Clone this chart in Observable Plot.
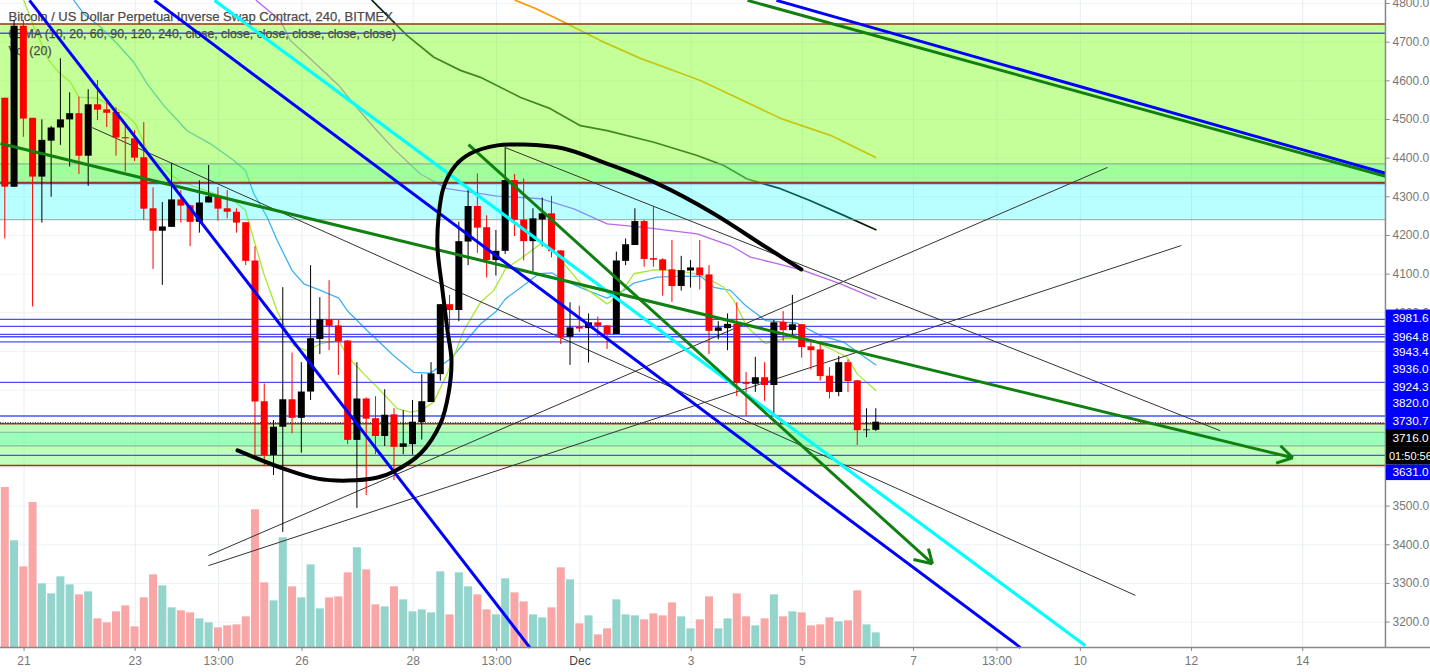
<!DOCTYPE html>
<html><head><meta charset="utf-8">
<style>html,body{margin:0;padding:0;background:#fff;overflow:hidden}svg{display:block}</style>
<script src="https://cdn.jsdelivr.net/npm/d3@7"></script>
<script src="https://cdn.jsdelivr.net/npm/@observablehq/plot@0.6"></script>
</head><body><div id="chart"></div>
<script>
// x unit: 4-hour bar number. y unit: price in USD.
const opens = [4555,4325,4741,4503,4351,4444,4478,4499,4515,4405,4538,4525,4518,4453,4450,4401,4269,4211,4221,4292,4277,4234,4284,4301,4269,4260,4233,4134,3770,3631,3704,3775,3727,3795,3931,3982,3966,3927,3670,3777,3726,3680,3736,3652,3659,3716,3768,3840,4021,4006,4183,4275,4220,4135,4159,4342,4240,4184,4240,4256,4160,3937,3963,3959,3974,3966,3944,4133,4174,4236,4140,4137,4111,4068,4108,4116,4098,3952,3959,3970,3819,3815,3832,3812,3975,3954,3969,3912,3904,3836,3794,3871,3824,3695,3696];
const closes = [4325,4741,4501,4351,4446,4478,4499,4515,4405,4538,4524,4516,4452,4450,4400,4268,4211,4222,4292,4276,4234,4284,4300,4268,4260,4232,4133,3769,3631,3704,3775,3727,3795,3933,3982,3965,3925,3670,3777,3725,3680,3735,3652,3661,3717,3770,3842,4021,4006,4184,4275,4219,4135,4159,4342,4239,4184,4243,4256,4158,3935,3961,3958,3974,3965,3944,4134,4176,4236,4138,4136,4109,4068,4109,4116,4096,3952,3961,3970,3818,3815,3832,3812,3974,3954,3969,3910,3902,3835,3794,3871,3822,3695,3697,3717];
const highs = [4555,4756,4756,4503,4499,4482,4657,4569,4558,4577,4601,4545,4530,4484,4471,4492,4323,4285,4385,4316,4277,4341,4381,4324,4316,4269,4233,4171,3816,3721,4065,3896,3871,4122,4039,4083,3980,3928,3871,3780,3783,3801,3752,3747,3773,3840,3871,4021,4045,4234,4323,4359,4251,4213,4427,4358,4346,4269,4297,4301,4161,4026,4017,3997,3989,3967,4157,4191,4269,4239,4275,4140,4187,4146,4135,4187,4122,3977,3997,4026,3846,3885,3871,3980,4003,4045,3970,3922,3920,3858,3887,3878,3825,3752,3752];
const lows = [4191,4325,4454,4015,4232,4299,4433,4377,4358,4327,4497,4479,4405,4364,4391,4239,4112,4071,4221,4232,4171,4206,4284,4237,4243,4206,4122,3631,3602,3579,3432,3687,3637,3773,3892,3902,3838,3659,3494,3527,3633,3654,3566,3633,3632,3671,3768,3823,3957,3977,4122,4154,4090,4095,4151,4197,4134,4105,4170,4142,3918,3864,3949,3870,3939,3905,3944,4122,4174,4118,4118,4043,4027,4056,4064,4059,3892,3930,3902,3783,3732,3794,3771,3732,3926,3941,3883,3852,3823,3777,3783,3794,3657,3677,3693];
const volumes = [480,320,242,435,191,161,212,188,158,167,86,74,107,125,62,149,218,185,119,110,104,86,74,59,65,68,92,413,194,140,329,182,149,248,116,149,152,224,299,233,128,122,182,143,107,113,104,227,98,224,182,158,113,98,206,164,137,98,89,119,239,203,71,95,38,56,143,98,95,83,101,95,134,92,56,83,152,56,86,161,92,65,86,158,92,107,104,65,68,89,77,80,170,68,44];

const ema10Bars = [1.98,3.06,4.68,5.75,7,7.9,9.89,11.69,13.13,14.03,15.47,18.17,19.06,24.64,25.9,26.26,27.88,29.3,31.1,32.55,34,35.97,36.87,38.67,40.1,42.27,43.7,44.96,46.2,47.66,49.46,51.26,52.7,53.96,55.58,57.74,58.82,60.26,62.42,64.93,66.37,67.81,69.97,72.49,75,77.52,78.6,80.04,82.02,84,86.52,89.04,90.84,91.91,93.93];
const ema10Prices = [4808,4739,4653,4622,4597,4558,4555,4532,4510,4489,4411,4351,4338,4290,4265,4234,4101,4006,3915,3902,3920,3928,3889,3842,3808,3752,3743,3749,3769,3842,3954,4027,4058,4114,4140,4178,4174,4127,4066,4023,4049,4101,4111,4109,4099,4066,4032,3963,3920,3933,3933,3907,3885,3842,3799];
const ema20Bars = [7.37,8.45,10.25,12.05,13.85,15.29,17.09,19.6,22.12,24.64,25.9,26.8,28.24,29.32,30.93,32.2,34,35.97,36.87,39.03,41.9,44.06,45.86,48.02,51.26,52.88,53.96,55.94,57.56,59,60.26,62.78,64.93,66.73,67.81,70.33,72.49,75,76.45,78.24,79.86,82.02,85.44,87.96,90.47,93.93];
const ema20Prices = [4808,4773,4739,4696,4648,4592,4536,4471,4437,4394,4368,4308,4247,4187,4109,4075,4058,4038,4006,3954,3889,3846,3844,3881,3971,4002,4036,4071,4101,4103,4084,4058,4038,4058,4077,4092,4094,4095,4066,4058,4019,3980,3973,3941,3924,3865];
const ema60Bars = [27.06,29.67,30.75,32.55,35.97,37.59,39.75,41.9,44.78,47.66,50.19,53.06,57.74,61.34,64.93,68.89,74.65,78.24,80.4,83.28,86.16,90.12,93.93];
const ema60Prices = [4808,4756,4704,4665,4588,4540,4480,4424,4359,4321,4312,4302,4295,4269,4230,4221,4204,4174,4144,4127,4109,4075,4036];
const ema90Bars = [39.57,41.9,43.35,46.23,49.1,51.26,55.6,58.8,62.05,64.93,69.97,74.65,77.52,80.04,83.64,86.88,90.47,93.93];
const ema90Prices = [4808,4752,4717,4661,4627,4609,4557,4528,4484,4471,4441,4407,4381,4346,4321,4290,4252,4215];
const ema120Bars = [55.04,57.2,59.9,64.2,68.53,75,83.64,89.03,93.89];
const ema120Prices = [4808,4787,4756,4704,4658,4601,4503,4459,4402];

const arcBars = [25.04,30,33.67,36.9,40.15,41.87,44.79,46.95,47.81,48.13,47.7,47.16,46.62,46.73,47.27,48.56,50.18,53.1,55.9,60.22,64.54,70.36,76.4,81.8,85.9];
const arcPrices = [3644,3597,3571,3566,3574,3589,3636,3714,3791,3877,3954,4058,4169,4246,4324,4381,4412,4433,4435,4425,4389,4334,4257,4174,4112];

const thickBlue = [[2.59,4808,56.6,3134],[16.08,4808,109.54,3134],[83.2,4808,148.93,4361]];
const thickCyan = [[22.56,4808,116.55,3139]];
const thickGreen = [[80.08,4808,148.93,4353],[-0.54,4438,138.93,3625],[137.6,3656,138.93,3625],[137.13,3611,138.93,3625],[49.97,4435,100.04,3351],[99.61,3390,100.04,3351],[97.99,3362,100.04,3351]];
const thinBlack = [[9.36,4479,121.95,3269],[53.96,4427,131.1,3695],[21.9,3372,118.93,4376],[21.9,3346,126.9,4174]];

const blueLevels = [4723,4334,3983,3965,3944,3938,3925,3820,3733,3631];
const brownLevels = [4747,4337,3713,3605];
const greenZones = [[4747,4337],[3713,3605]];
const cyanZones = [[4385,4241],[3691,3656]];
const lastPrice = 3716;

const priceTicks = [4800,4700,4600,4500,4400,4300,4200,4100,4000,3900,3800,3700,3600,3500,3400,3300,3200];
const timeBars = [2,14,23,32,44,53,62,74,86,98,107,116,128,140];
const timeLabels = ["21","23","13:00","26","28","13:00","Dec","3","5","7","13:00","10","12","14"];
const tagTexts = ["3981.6","3964.8","3943.4","3936.0","3924.3","3820.0","3730.7","3716.0","01:50:56","3631.0"];
const tagPrices = [3986,3938,3898,3854,3808,3765,3720,3675,3629,3587];
const tagBoxes = [[4007,3698,"#0000ff"],[3698,3654,"#000000"],[3654,3606,"#000000"],[3606,3566,"#0000ff"]];
const legendLines = ["Bitcoin / US Dollar Perpetual Inverse Swap Contract, 240, BITMEX","6EMA (10, 20, 60, 90, 120, 240, close, close, close, close, close, close)","Vol (20)"];
const legendPrices = [4766,4722,4678];
const legendSizes = [13,12.3,12.5];

const candles = opens.map((o,i)=>({i,o,c:closes[i],h:highs[i],l:lows[i],v:volumes[i],up:closes[i]>=o}));
const pairs = (xs,ys)=>xs.map((x,i)=>({x,y:ys[i]}));
const segs = a=>a.map(([x1,y1,x2,y2])=>({x1,y1,x2,y2}));
const zones = a=>a.map(([y1,y2])=>({y1,y2}));

const X0=-0.54, XR=148.93, XE=153.79, YB=3134.2, volK=0.8622;
const font="Liberation Sans, Arial, sans-serif";
const emaLine=(xs,ys,stroke,w=1.3)=>Plot.line(pairs(xs,ys),{x:"x",y:"y",stroke,strokeWidth:w,curve:"linear"});
const segMark=(a,stroke,strokeWidth,extra={})=>Plot.link(segs(a),{x1:"x1",y1:"y1",x2:"x2",y2:"y2",stroke,strokeWidth,...extra});

const chart = Plot.plot({
  width:1430,height:672,margin:0,
  x:{type:"linear",domain:[X0,XE],range:[0,1430],axis:null},
  y:{type:"linear",domain:[4807.76,3069.6],range:[0,672],axis:null},
  style:{fontFamily:font,background:"#fff"},
  marks:[
    Plot.ruleY(priceTicks,{x1:X0,x2:XR,stroke:"#eff3f7",strokeWidth:1}),
    Plot.ruleX(timeBars,{y1:4807.76,y2:YB,stroke:"#e6eef4",strokeWidth:1}),
    Plot.ruleX(candles,{x:"i",y1:YB,y2:d=>YB+d.v*volK,stroke:d=>d.up?"#93d4cc":"#f9a6a6",strokeWidth:8,dx:-0.7}),
    emaLine(ema120Bars,ema120Prices,"#ff9800",1.7),
    emaLine(ema90Bars,ema90Prices,"#06200c",1.7),
    emaLine(ema60Bars,ema60Prices,"#bb66ee"),
    emaLine(ema20Bars,ema20Prices,"#3fb1f2"),
    emaLine(ema10Bars,ema10Prices,"#a8e832"),
    Plot.rect(zones(cyanZones),{x1:()=>X0,x2:()=>XR,y1:"y1",y2:"y2",fill:"rgb(0,255,255)",fillOpacity:0.27}),
    Plot.rect(zones(greenZones.slice(0,1)),{x1:()=>X0,x2:()=>XR,y1:"y1",y2:"y2",fill:"rgb(130,255,40)",fillOpacity:0.47}),
    Plot.rect(zones(greenZones.slice(1)),{x1:()=>X0,x2:()=>XR,y1:"y1",y2:"y2",fill:"rgb(120,255,110)",fillOpacity:0.47}),
    Plot.ruleY(cyanZones.flat(),{x1:X0,x2:XR,stroke:"#7a9a8a",strokeOpacity:0.7,strokeWidth:1.2}),
    Plot.ruleY(brownLevels,{x1:X0,x2:XR,stroke:"#8f3a22",strokeWidth:1.5}),
    Plot.ruleY(blueLevels,{x1:X0,x2:XR,stroke:"#4a50f5",strokeWidth:1.3}),
    Plot.text(legendLines,{x:()=>X0,y:(d,i)=>legendPrices[i],text:d=>d,textAnchor:"start",dx:8,fontSize:(d,i)=>legendSizes[i],fill:"#4a4a4a",stroke:"#555",strokeWidth:0.25,fontFamily:font}),
    Plot.ruleY([lastPrice],{x1:X0,x2:XR,stroke:"#333",strokeWidth:1,strokeDasharray:"1,1.5"}),
    segMark(thinBlack,"#333",1),
    Plot.ruleX(candles,{x:"i",y1:"l",y2:"h",stroke:d=>d.up?"#000":"#f00",strokeWidth:1,dx:-0.7}),
    Plot.ruleX(candles,{x:"i",y1:"o",y2:"c",stroke:d=>d.up?"#000":"#f00",strokeWidth:7,dx:-0.7}),
    segMark(thickCyan,"#00ffff",3.2),
    segMark(thickGreen,"#108010",3),
    segMark(thickBlue,"#0000ff",3),
    Plot.line(pairs(arcBars,arcPrices),{x:"x",y:"y",stroke:"#000",strokeWidth:4,curve:"catmull-rom"}),
    Plot.ruleX([XR],{y1:4807.76,y2:YB,stroke:"#888",strokeWidth:1.5}),
    Plot.ruleY([YB],{x1:X0,x2:XE,stroke:"#888",strokeWidth:1.5}),
    Plot.ruleY(priceTicks,{x1:XR,x2:XR+0.5,stroke:"#888",strokeWidth:1}),
    Plot.ruleX(timeBars,{y1:YB,y2:YB-10,stroke:"#888",strokeWidth:1}),
    Plot.text(priceTicks,{x:()=>XR,y:d=>d,text:d=>d.toFixed(1),textAnchor:"start",dx:7,fontSize:12,fill:"#777",fontFamily:font}),
    Plot.text(timeLabels,{x:(d,i)=>timeBars[i],y:()=>3098,text:d=>d,fontSize:12,fill:d=>d==="Dec"?"#444":"#777",fontWeight:d=>d==="Dec"?"bold":"normal",fontFamily:font}),
    Plot.rect(tagBoxes.map(([y1,y2,f])=>({y1,y2,f})),{x1:()=>XR+0.1,x2:()=>XE,y1:"y1",y2:"y2",fill:"f"}),
    Plot.text(tagTexts.filter(t=>!t.includes(":")),{x:()=>XR,y:d=>tagPrices[tagTexts.indexOf(d)],text:d=>d,textAnchor:"start",dx:7,fontSize:11.8,fill:"#fff",fontFamily:font}),
    Plot.text(tagTexts.filter(t=>t.includes(":")),{x:()=>XR,y:d=>tagPrices[tagTexts.indexOf(d)],text:d=>d,textAnchor:"start",dx:3.5,fontSize:11,fill:"#fff",fontFamily:font})
  ]
});
document.getElementById("chart").appendChild(chart);
</script></body></html>
